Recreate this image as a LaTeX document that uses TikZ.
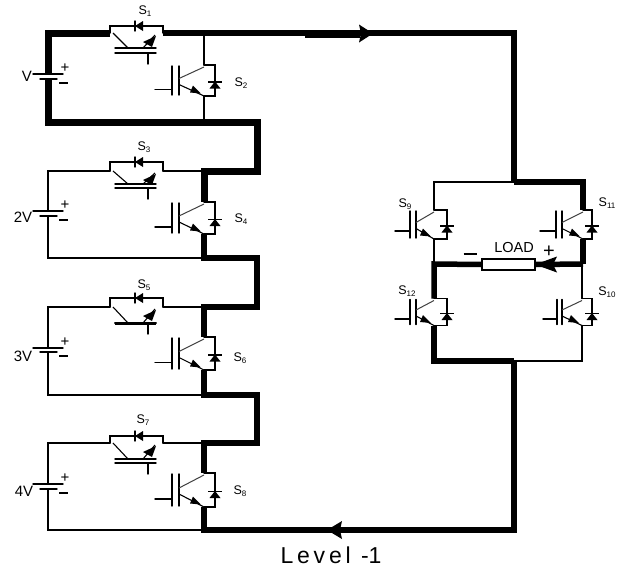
\documentclass[tikz,border=0pt]{standalone}
\usepackage{fontspec}
\setmainfont{Liberation Sans}
\newcommand\subt[2]{#1\raisebox{-2.5pt}{\fontsize{8}{8}\selectfont #2}}
\tikzset{
  thinw/.style={line width=1.4pt,black,line cap=round},
  thickw/.style={line width=6.5pt,black,line join=miter},
  lab/.style={inner sep=0pt,font=\fontsize{12.5}{12.5}\selectfont},
  vlab/.style={inner sep=0pt,font=\fontsize{15}{15}\selectfont}
}
% name, x, y, half height, bar1 offset, bar2 offset, bracket offset, gate start offset, gate y
\newcommand\vsw[9]{%
  \begin{scope}[shift={(#2,#3)}]
    \coordinate (#1-c) at (0,-#4);
    \coordinate (#1-e) at (0,#4);
    \draw[thinw] (#1-c) -- (#7,-#4) -- (#7,#4) -- (#1-e);
    \draw[thinw] (#5,-#4+1) -- (#5,#4-1);
    \draw[thinw] (#6,-#4+1) -- (#6,#4-1);
    \draw[thinw] (#8,#9) -- (#5,#9);
    \draw[line width=1pt,black!75] (#6,-2) -- (0,-#4+2);
    \draw[line width=1.1pt] (#6,4) -- (0,#4);
    \fill (-3,#4-2.5) -- (-14,#4-3.5) -- (-11,#4-10.5) -- cycle;
    \fill (#7-5.5,8) -- (#7+5.5,8) -- (#7,1) -- cycle;
    \draw[line width=1.5pt] (#7-7,1.5) -- (#7+7,1.5);
  \end{scope}}
% name, rail y, bracket y, bar 1 y, bar 2 y
\newcommand\hsw[5]{%
  \coordinate (#1-l) at (110,#2);
  \coordinate (#1-r) at (163,#2);
  \draw[thinw] (#1-l) -- (110,#3) -- (163,#3) -- (#1-r);
  \draw[line width=1.1pt] (113,#2) -- (128,#4);
  \draw[line width=1.1pt] (143,#4) -- (155,#2+2);
  \fill (156,#2+3) -- (143,#2+9) -- (152,#2+14) -- cycle;
  \draw[thinw] (115,#4) -- (156,#4);
  \draw[thinw] (115,#5) -- (156,#5);
  \draw[thinw] (148,#5) -- (148,#5+11);
  \draw[thinw] (135,#3-5) -- (135,#3+5);
  \fill (135,#3) -- (143,#3-5) -- (143,#3+5) -- cycle;}
% name, long plate y, short plate y
\newcommand\batt[3]{%
  \coordinate (#1-p) at (48,#2);
  \coordinate (#1-n) at (48,#3);
  \draw[thinw] (33,#2) -- (63,#2);
  \draw[thinw] (40,#3) -- (57,#3);
  \node[lab,font=\fontsize{15}{15}\selectfont] (#1-plus) at (65,#2-5.5) {+};
  \coordinate (#1-minus) at (63.5,#3+4);}
\begin{document}
\begin{tikzpicture}[x=1pt,y=-1pt]
\useasboundingbox (0,0) rectangle (625,574);
\fill[white] (0,0) rectangle (625,574);

% junctions
\coordinate (tl) at (48,33);
\coordinate (tj) at (204,33);
\coordinate (tr) at (514,33);
\coordinate (c1b) at (48,122);
\coordinate (c1j) at (204,122);
\coordinate (l1) at (257,122);
\coordinate (c2tl) at (48,171);
\coordinate (c2j) at (204,171);
\coordinate (l1b) at (257,171);
\coordinate (c2bl) at (48,258);
\coordinate (c2bj) at (204,258);
\coordinate (l2) at (257,258);
\coordinate (c3tl) at (48,307);
\coordinate (c3j) at (204,307);
\coordinate (l2b) at (257,307);
\coordinate (c3bl) at (48,395);
\coordinate (c3bj) at (204,395);
\coordinate (l3) at (257,395);
\coordinate (c4tl) at (48,443);
\coordinate (c4j) at (204,443);
\coordinate (l3b) at (257,443);
\coordinate (c4bl) at (48,530);
\coordinate (c4bj) at (204,530);
\coordinate (br) at (514,530);
\coordinate (hbt) at (514,182);
\coordinate (hbb) at (514,361);
\coordinate (htl) at (434,182);
\coordinate (htr) at (583,182);
\coordinate (hml) at (434,264);
\coordinate (hmr) at (583,264);
\coordinate (hbl) at (434,361);
\coordinate (hbrr) at (582,361);
\coordinate (hmr2) at (582,264);

% load
\node[draw=black,fill=white,line width=1.3pt,minimum width=53pt,minimum height=11pt,inner sep=0pt] (load) at (508.5,264.5) {};

% series switches
\hsw{s1}{33}{26}{48}{53}
\hsw{s3}{171}{162}{184}{188}
\hsw{s5}{307}{298}{323}{323}
\hsw{s7}{443}{436}{459}{463}
\draw[line width=3pt] (115,323) -- (156,323);

% shunt switches
\vsw{s2}{204}{80.5}{15.5}{-32}{-25}{11}{-49}{9}
\vsw{s4}{204}{218}{16}{-32}{-25}{11}{-49}{9}
\vsw{s6}{204}{353.5}{16.5}{-32}{-25}{11}{-49}{9}
\vsw{s8}{204}{490}{17}{-32}{-25}{11}{-49}{9}
\vsw{s9}{434}{224.5}{14.5}{-24}{-18}{13}{-39}{6.5}
\vsw{s12}{434}{312}{13.5}{-24}{-18}{13}{-39}{7}
\vsw{s11}{583}{224.5}{14.5}{-27}{-21}{9}{-43}{6.5}
\vsw{s10}{582}{312}{13.5}{-25}{-20}{10}{-39}{7}

% batteries
\batt{b1}{74}{79}
\batt{b2}{211}{216}
\batt{b3}{348}{352}
\batt{b4}{484}{489}
\foreach \m in {b1,b2,b3,b4} \draw[line width=1.4pt] (\m-minus) +(-4.5,0) -- +(4.5,0);

% thin wiring
\draw[thinw] (s2-c) -- (tj);
\draw[thinw] (s2-e) -- (c1j);
\draw[thinw] (b2-p) -- (c2tl) -- (s3-l);
\draw[thinw] (s3-r) -- (c2j);
\draw[thinw] (b2-n) -- (c2bl) -- (c2bj);
\draw[thinw] (b3-p) -- (c3tl) -- (s5-l);
\draw[thinw] (s5-r) -- (c3j);
\draw[thinw] (b3-n) -- (c3bl) -- (c3bj);
\draw[thinw] (b4-p) -- (c4tl) -- (s7-l);
\draw[thinw] (s7-r) -- (c4j);
\draw[thinw] (b4-n) -- (c4bl) -- (c4bj);
\draw[thinw] (hbt) -- (htl) -- (s9-c);
\draw[thinw] (s9-e) -- (hml);
\draw[thinw] (hmr2) -- (s10-c);
\draw[thinw] (s10-e) -- (hbrr) -- (hbb);

% thick current path
\draw[thickw,line width=7pt] (s1-l) -- (tl) -- (b1-p);
\draw[thickw,line width=7pt] (b1-n) -- (c1b) -- (l1) -- (l1b) -- (c2j) -- (s4-c);
\draw[thickw] (s1-r) -- (tr) -- (hbt);
\draw[thickw] (s4-e) -- (c2bj) -- (l2) -- (l2b) -- (c3j) -- (s6-c);
\draw[thickw] (s6-e) -- (c3bj) -- (l3) -- (l3b) -- (c4j) -- (s8-c);
\draw[thickw] (s8-e) -- (c4bj) -- (br) -- (hbb);
\draw[thickw,line width=5.5pt] (hbt) -- (htr) -- (s11-c);
\draw[thickw,line width=5.5pt] (s11-e) -- (hmr);
\draw[thickw,line width=5.5pt] (s12-c) -- (hml) -- (load.west);
\draw[thickw,line width=5.5pt] (s12-e) -- (hbl) -- (hbb);
\draw[thickw,line width=5.5pt] (load.east) -- (hmr);

\node[inner sep=0pt,font=\fontsize{14.5}{14.5}\selectfont] (loadt) at (514,247.5) {LOAD};
\node[inner sep=0pt,font=\fontsize{20}{20}\selectfont] (lp) at (549,252) {+};
\coordinate (lm) at (470,254);
\draw[line width=1.6pt] (lm) +(-6.5,0) -- +(6.5,0);

% direction arrows
\coordinate (a1) at (373,33.5);
\coordinate (a2) at (327,530);
\coordinate (a3) at (535,264.5);
\fill (305,30) rectangle (360,38);
\fill (a1) -- ++(-14,-9) -- ++(2,9) -- ++(-2,9) -- cycle;
\fill (a2) -- ++(15,-9) -- ++(-2,9) -- ++(2,9) -- cycle;
\fill (a3) -- ++(22,-8) -- ++(-4,8) -- ++(4,8) -- cycle;

% labels
\node[vlab] (lv1) at (27,76) {V};
\node[vlab] (lv2) at (23,217) {2V};
\node[vlab] (lv3) at (23,356) {3V};
\node[vlab] (lv4) at (24,491) {4V};
\node[lab] (n1) at (145,11) {\subt{S}{1}};
\node[lab] (n2) at (241,83) {\subt{S}{2}};
\node[lab] (n3) at (144,147) {\subt{S}{3}};
\node[lab] (n4) at (241,219) {\subt{S}{4}};
\node[lab] (n5) at (144,285) {\subt{S}{5}};
\node[lab] (n6) at (240,358) {\subt{S}{6}};
\node[lab] (n7) at (143,420) {\subt{S}{7}};
\node[lab] (n8) at (240,491) {\subt{S}{8}};
\node[lab] (n9) at (405,204) {\subt{S}{9}};
\node[lab] (n11) at (607,203) {\subt{S}{11}};
\node[lab] (n12) at (407,291) {\subt{S}{12}};
\node[lab] (n10) at (607,292) {\subt{S}{10}};
\node[inner sep=0pt,font=\fontsize{23}{23}\selectfont] (lvl) at (331,555) {L\,e\,v\,e\,l\, -1};
\end{tikzpicture}
\end{document}
